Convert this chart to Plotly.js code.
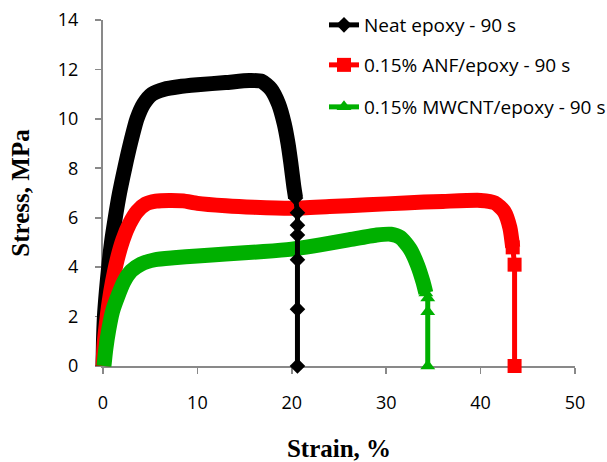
<!DOCTYPE html>
<html>
<head>
<meta charset="utf-8">
<script src="https://cdn.plot.ly/plotly-3.0.1.min.js"></script>
<style>html,body{margin:0;padding:0;background:#fff;}#chart{width:607px;height:462px;}</style>
</head>
<body>
<div id="chart"></div>
<script>
// Series names
const seriesNames = ['Neat epoxy - 90 s', '0.15% ANF/epoxy - 90 s', '0.15% MWCNT/epoxy - 90 s'];

// Neat epoxy: dense part (drawn as thick band) and sparse tail (markers)
const blackBandX = [0, 0.05, 0.15, 0.35, 0.6, 0.9, 1.3, 1.75, 2.3, 2.9, 3.6, 4.3, 5.2, 6.5, 8, 10, 13, 15.5, 16.8, 17.8, 18.6, 19.2, 19.6, 19.9, 20.2, 20.4];
const blackBandY = [0, 1, 2, 3, 4, 5, 6, 7, 8, 9, 10, 10.6, 11.0, 11.2, 11.3, 11.38, 11.47, 11.55, 11.52, 11.2, 10.6, 9.8, 9.0, 8.2, 7.3, 6.8];
const blackTailX = [20.4, 20.6, 20.6, 20.6, 20.6, 20.6, 20.6];
const blackTailY = [6.8, 6.2, 5.7, 5.3, 4.3, 2.3, 0];

// 0.15% ANF/epoxy
const redBandX = [0, 0.1, 0.35, 0.65, 1.0, 1.5, 2.1, 2.8, 3.6, 4.5, 5.6, 7, 8.5, 10, 13, 16, 20, 24, 28, 32, 36, 40, 41.5, 42.5, 43.1, 43.4];
const redBandY = [0, 0.8, 1.7, 2.6, 3.4, 4.3, 5.1, 5.75, 6.25, 6.55, 6.67, 6.7, 6.68, 6.58, 6.48, 6.42, 6.38, 6.45, 6.52, 6.6, 6.66, 6.7, 6.6, 6.25, 5.6, 4.8];
const redTailX = [43.4, 43.6, 43.6];
const redTailY = [4.8, 4.1, 0];

// 0.15% MWCNT/epoxy
const greenBandX = [0.1, 0.3, 0.6, 1.0, 1.6, 2.2, 3.0, 4.0, 5.5, 7.5, 10, 13, 17, 20, 23, 26, 29, 30.5, 31.5, 32.5, 33.3, 33.9, 34.2];
const greenBandY = [0, 0.7, 1.45, 2.2, 2.85, 3.4, 3.85, 4.12, 4.3, 4.38, 4.45, 4.53, 4.63, 4.73, 4.9, 5.1, 5.3, 5.33, 5.2, 4.75, 4.1, 3.4, 2.95];
const greenTailX = [34.2, 34.4, 34.4, 34.4];
const greenTailY = [2.95, 2.75, 2.2, 0];

// Tick values
const xTicks = [0, 10, 20, 30, 40, 50];
const yTicks = [0, 2, 4, 6, 8, 10, 12, 14];

const colors = ['#000000', '#FF0000', '#00B000'];
const symbols = ['diamond', 'square', 'triangle-up'];
const msizes = [12, 14, 13];

function band(x, y, c) {
  return {x: x, y: y, xaxis: 'x2', yaxis: 'y2', mode: 'lines', type: 'scatter', showlegend: false,
    cliponaxis: false, hoverinfo: 'skip', line: {color: c, width: 15, shape: 'spline', smoothing: 0.6}};
}
function tail(x, y, i, leg) {
  return {x: x, y: y, xaxis: 'x2', yaxis: 'y2', mode: 'lines+markers', type: 'scatter', name: seriesNames[i],
    legend: leg, cliponaxis: false, line: {color: colors[i], width: 5},
    marker: {color: colors[i], symbol: symbols[i], size: msizes[i]}};
}

const data = [
  {x: [], y: [], xaxis: 'x', yaxis: 'y', type: 'scatter', mode: 'lines', showlegend: false},
  band(blackBandX, blackBandY, colors[0]),
  band(redBandX, redBandY, colors[1]),
  band(greenBandX, greenBandY, colors[2]),
  tail(blackTailX, blackTailY, 0, 'legend'),
  tail(redTailX, redTailY, 1, 'legend2'),
  tail(greenTailX, greenTailY, 2, 'legend3')
];

const legFont = {family: 'Open Sans, sans-serif', size: 19, color: '#000'};
function legendCfg(y) {
  return {x: 0.4701, y: y, xanchor: 'left', yanchor: 'middle', bgcolor: 'rgba(0,0,0,0)', font: legFont,
    borderwidth: 0, itemclick: false};
}

const axisBase = {
  showline: true, linecolor: '#898989', linewidth: 2, ticks: 'outside', ticklen: 6, tickwidth: 1.75,
  tickcolor: '#898989', showgrid: false, zeroline: false, fixedrange: true,
  tickfont: {family: 'Open Sans, sans-serif', size: 18, color: '#000'}
};

// plot area: x 88..590 px, y 5..382 px; visible axes occupy x 103..575, y 20..366
const layout = {
  width: 607, height: 462,
  margin: {l: 88, r: 17, t: 5, b: 80, autoexpand: false},
  paper_bgcolor: '#ffffff', plot_bgcolor: 'rgba(0,0,0,0)',
  showlegend: true,
  xaxis: Object.assign({}, axisBase, {
    domain: [15 / 502, 487 / 502], anchor: 'y',
    range: [0, 50], tickvals: xTicks, ticktext: xTicks.map(String), ticklabelstandoff: 13,
    title: {text: '<b>Strain, %</b>', font: {family: 'Liberation Serif, serif', size: 25, color: '#000'}, standoff: 28}
  }),
  yaxis: Object.assign({}, axisBase, {
    domain: [16 / 377, 362 / 377], anchor: 'x',
    range: [0, 14], tickvals: yTicks, ticktext: yTicks.map(String), ticklabelstandoff: 13,
    title: {text: '<b>Stress, MPa</b>', font: {family: 'Liberation Serif, serif', size: 25, color: '#000'}, standoff: 21}
  }),
  xaxis2: {domain: [0, 1], anchor: 'y2', range: [-15 / 9.44, 50 + 15 / 9.44], visible: false, fixedrange: true},
  yaxis2: {domain: [0, 1], anchor: 'x2', range: [-16 / (346 / 14), 14 + 15 / (346 / 14)], visible: false, fixedrange: true},
  legend: legendCfg(0.9469),
  legend2: legendCfg(0.8408),
  legend3: legendCfg(0.7294)
};

Plotly.newPlot('chart', data, layout, {displayModeBar: false, staticPlot: true});
</script>
</body>
</html>
